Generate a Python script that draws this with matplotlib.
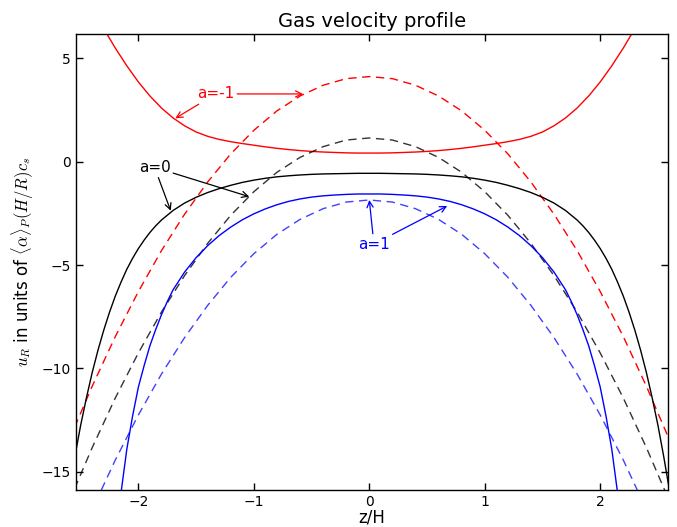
"""Gas velocity profile, u_R against z/H for a=-1, 0, 1"""

import matplotlib
matplotlib.use('Agg')
import matplotlib.pyplot as plt

plt.rcParams['mathtext.fontset'] = 'cm'
plt.rcParams['font.family'] = 'DejaVu Sans'

# z/H samples for the solid curves
z_black = [-2.6, -2.55, -2.5, -2.45, -2.4, -2.35, -2.3, -2.25, -2.2, -2.15,
           -2.1, -2.05, -2.0, -1.95, -1.9, -1.85, -1.8, -1.7, -1.6, -1.5,
           -1.4, -1.3, -1.2, -1.1, -1.0, -0.9, -0.8, -0.7, -0.6, -0.5, -0.4,
           -0.3, -0.2, -0.1, 0.0, 0.1, 0.2, 0.3, 0.4, 0.5, 0.6, 0.7, 0.8, 0.9,
           1.0, 1.1, 1.2, 1.3, 1.4, 1.5, 1.6, 1.7, 1.8, 1.85, 1.9, 1.95, 2.0,
           2.05, 2.1, 2.15, 2.2, 2.25, 2.3, 2.35, 2.4, 2.45, 2.5, 2.55, 2.6]
u_black = [-15.9, -14.26, -12.75, -11.42, -10.2, -9.12, -8.15, -7.28, -6.5,
           -5.82, -5.2, -4.67, -4.2, -3.79, -3.42, -3.1, -2.82, -2.36, -2.0,
           -1.72, -1.49, -1.3, -1.14, -1.0, -0.89, -0.8, -0.73, -0.68, -0.64,
           -0.61, -0.59, -0.58, -0.57, -0.56, -0.56, -0.56, -0.57, -0.58,
           -0.59, -0.61, -0.64, -0.68, -0.73, -0.8, -0.89, -1.0, -1.14, -1.3,
           -1.49, -1.72, -2.0, -2.36, -2.82, -3.1, -3.42, -3.79, -4.2, -4.67,
           -5.2, -5.82, -6.5, -7.28, -8.15, -9.12, -10.2, -11.42, -12.75,
           -14.26, -15.9]

z_red = [-2.3, -2.2, -2.1, -2.0, -1.9, -1.8, -1.7, -1.6, -1.5, -1.4, -1.3,
         -1.2, -1.1, -1.0, -0.9, -0.8, -0.7, -0.6, -0.5, -0.4, -0.3, -0.2,
         -0.1, 0.0, 0.1, 0.2, 0.3, 0.4, 0.5, 0.6, 0.7, 0.8, 0.9, 1.0, 1.1,
         1.2, 1.3, 1.4, 1.5, 1.6, 1.7, 1.8, 1.9, 2.0, 2.1, 2.2, 2.3]
u_red = [6.44, 5.5, 4.64, 3.86, 3.18, 2.6, 2.12, 1.74, 1.44, 1.23, 1.08,
         0.97, 0.88, 0.8, 0.72, 0.65, 0.59, 0.54, 0.5, 0.47, 0.45, 0.43,
         0.42, 0.42, 0.42, 0.43, 0.45, 0.47, 0.5, 0.54, 0.59, 0.65, 0.72,
         0.8, 0.88, 0.97, 1.08, 1.23, 1.44, 1.74, 2.12, 2.6, 3.18, 3.86,
         4.64, 5.5, 6.44]

z_blue = [-2.2, -2.15, -2.1, -2.05, -2.0, -1.95, -1.9, -1.85, -1.8, -1.75,
          -1.7, -1.6, -1.5, -1.4, -1.3, -1.2, -1.1, -1.0, -0.9, -0.8, -0.7,
          -0.6, -0.5, -0.4, -0.3, -0.2, -0.1, 0.0, 0.1, 0.2, 0.3, 0.4, 0.5,
          0.6, 0.7, 0.8, 0.9, 1.0, 1.1, 1.2, 1.3, 1.4, 1.5, 1.6, 1.7, 1.75,
          1.8, 1.85, 1.9, 1.95, 2.0, 2.05, 2.1, 2.15, 2.2]
u_blue = [-18.5, -16.0, -13.9, -12.3, -10.9, -9.86, -8.9, -8.12, -7.4, -6.77,
          -6.2, -5.34, -4.64, -4.06, -3.57, -3.16, -2.81, -2.52, -2.28, -2.08,
          -1.92, -1.8, -1.71, -1.65, -1.61, -1.58, -1.56, -1.56, -1.56, -1.58,
          -1.61, -1.65, -1.71, -1.8, -1.92, -2.08, -2.28, -2.52, -2.81, -3.16,
          -3.57, -4.06, -4.64, -5.34, -6.2, -6.77, -7.4, -8.12, -8.9, -9.86,
          -10.9, -12.3, -13.9, -16.0, -18.5]

# z/H samples for the dashed curves
z_dash = [-2.6, -2.4, -2.2, -2.0, -1.8, -1.6, -1.4, -1.2, -1.0, -0.8, -0.6,
          -0.4, -0.2, 0.0, 0.2, 0.4, 0.6, 0.8, 1.0, 1.2, 1.4, 1.6, 1.8, 2.0,
          2.2, 2.4, 2.6]
u_red_dash = [-13.46, -10.86, -8.46, -6.28, -4.3, -2.54, -0.98, 0.38, 1.52,
              2.46, 3.18, 3.7, 4.02, 4.12, 4.02, 3.7, 3.18, 2.46, 1.52, 0.38,
              -0.98, -2.54, -4.3, -6.28, -8.46, -10.86, -13.46]
u_black_dash = [-16.43, -13.83, -11.43, -9.25, -7.27, -5.51, -3.95, -2.59,
                -1.45, -0.51, 0.21, 0.73, 1.05, 1.15, 1.05, 0.73, 0.21, -0.51,
                -1.45, -2.59, -3.95, -5.51, -7.27, -9.25, -11.43, -13.83,
                -16.43]
u_blue_dash = [-19.43, -16.83, -14.43, -12.25, -10.27, -8.51, -6.95, -5.59,
               -4.45, -3.51, -2.79, -2.27, -1.95, -1.85, -1.95, -2.27, -2.79,
               -3.51, -4.45, -5.59, -6.95, -8.51, -10.27, -12.25, -14.43,
               -16.83, -19.43]

x_ticks = [-2, -1, 0, 1, 2]
y_ticks = [-15, -10, -5, 0, 5]


def label_two(ax, text, pos, targets, color):
    """One label with two arrows"""
    arrow = dict(arrowstyle='->', lw=0.9, shrinkA=0, shrinkB=0, color=color)
    ax.annotate(text, xy=targets[0], xytext=pos, color=color, fontsize=11,
                ha='center', va='center', arrowprops=arrow)
    # same text box, drawn invisible, so the second arrow starts right
    ax.annotate(text, xy=targets[1], xytext=pos, color=(0, 0, 0, 0),
                fontsize=11, ha='center', va='center', arrowprops=arrow)


def main():
    """Main"""
    fig = plt.figure(figsize=(6.77, 5.27), dpi=100)
    ax = fig.add_subplot(111)
    fig.subplots_adjust(left=0.1123, right=0.9872, top=0.9355, bottom=0.0702)

    dash = (0, (6, 4))
    ax.plot(z_red, u_red, color='r', lw=1.0)
    ax.plot(z_dash, u_red_dash, color='r', lw=1.0, linestyle=dash)
    ax.plot(z_black, u_black, color='k', lw=1.0)
    ax.plot(z_dash, u_black_dash, color='k', lw=1.0, linestyle=dash,
            alpha=0.8)
    ax.plot(z_blue, u_blue, color='b', lw=1.0)
    ax.plot(z_dash, u_blue_dash, color='b', lw=1.0, linestyle=dash,
            alpha=0.75)

    label_two(ax, 'a=-1', (-1.33, 3.28), [(-1.68, 2.1), (-0.574, 3.28)], 'r')
    label_two(ax, 'a=0', (-1.86, -0.27), [(-1.72, -2.37), (-1.04, -1.69)],
              'k')
    label_two(ax, 'a=1', (0.04, -3.98), [(0.0, -1.85), (0.675, -2.14)], 'b')

    ax.set_xlim(-2.54, 2.59)
    ax.set_ylim(-15.88, 6.18)
    ax.set_xticks(x_ticks)
    ax.set_yticks(y_ticks)
    ax.tick_params(direction='in', length=5, width=1.0, top=True,
                   right=True, labelsize=10, pad=3.5)
    for spine in ax.spines.values():
        spine.set_linewidth(1.0)

    ax.set_title('Gas velocity profile', fontsize=14, pad=5)
    ax.set_xlabel('z/H', fontsize=12, labelpad=0)
    ax.set_ylabel(r'$u_R$ in units of $\langle\alpha\rangle_P(H/R)c_s$',
                  fontsize=12)
    ax.yaxis.set_label_coords(-0.068, 0.5)

    fig.savefig('out.png', dpi=100)


if __name__ == '__main__':
    main()
